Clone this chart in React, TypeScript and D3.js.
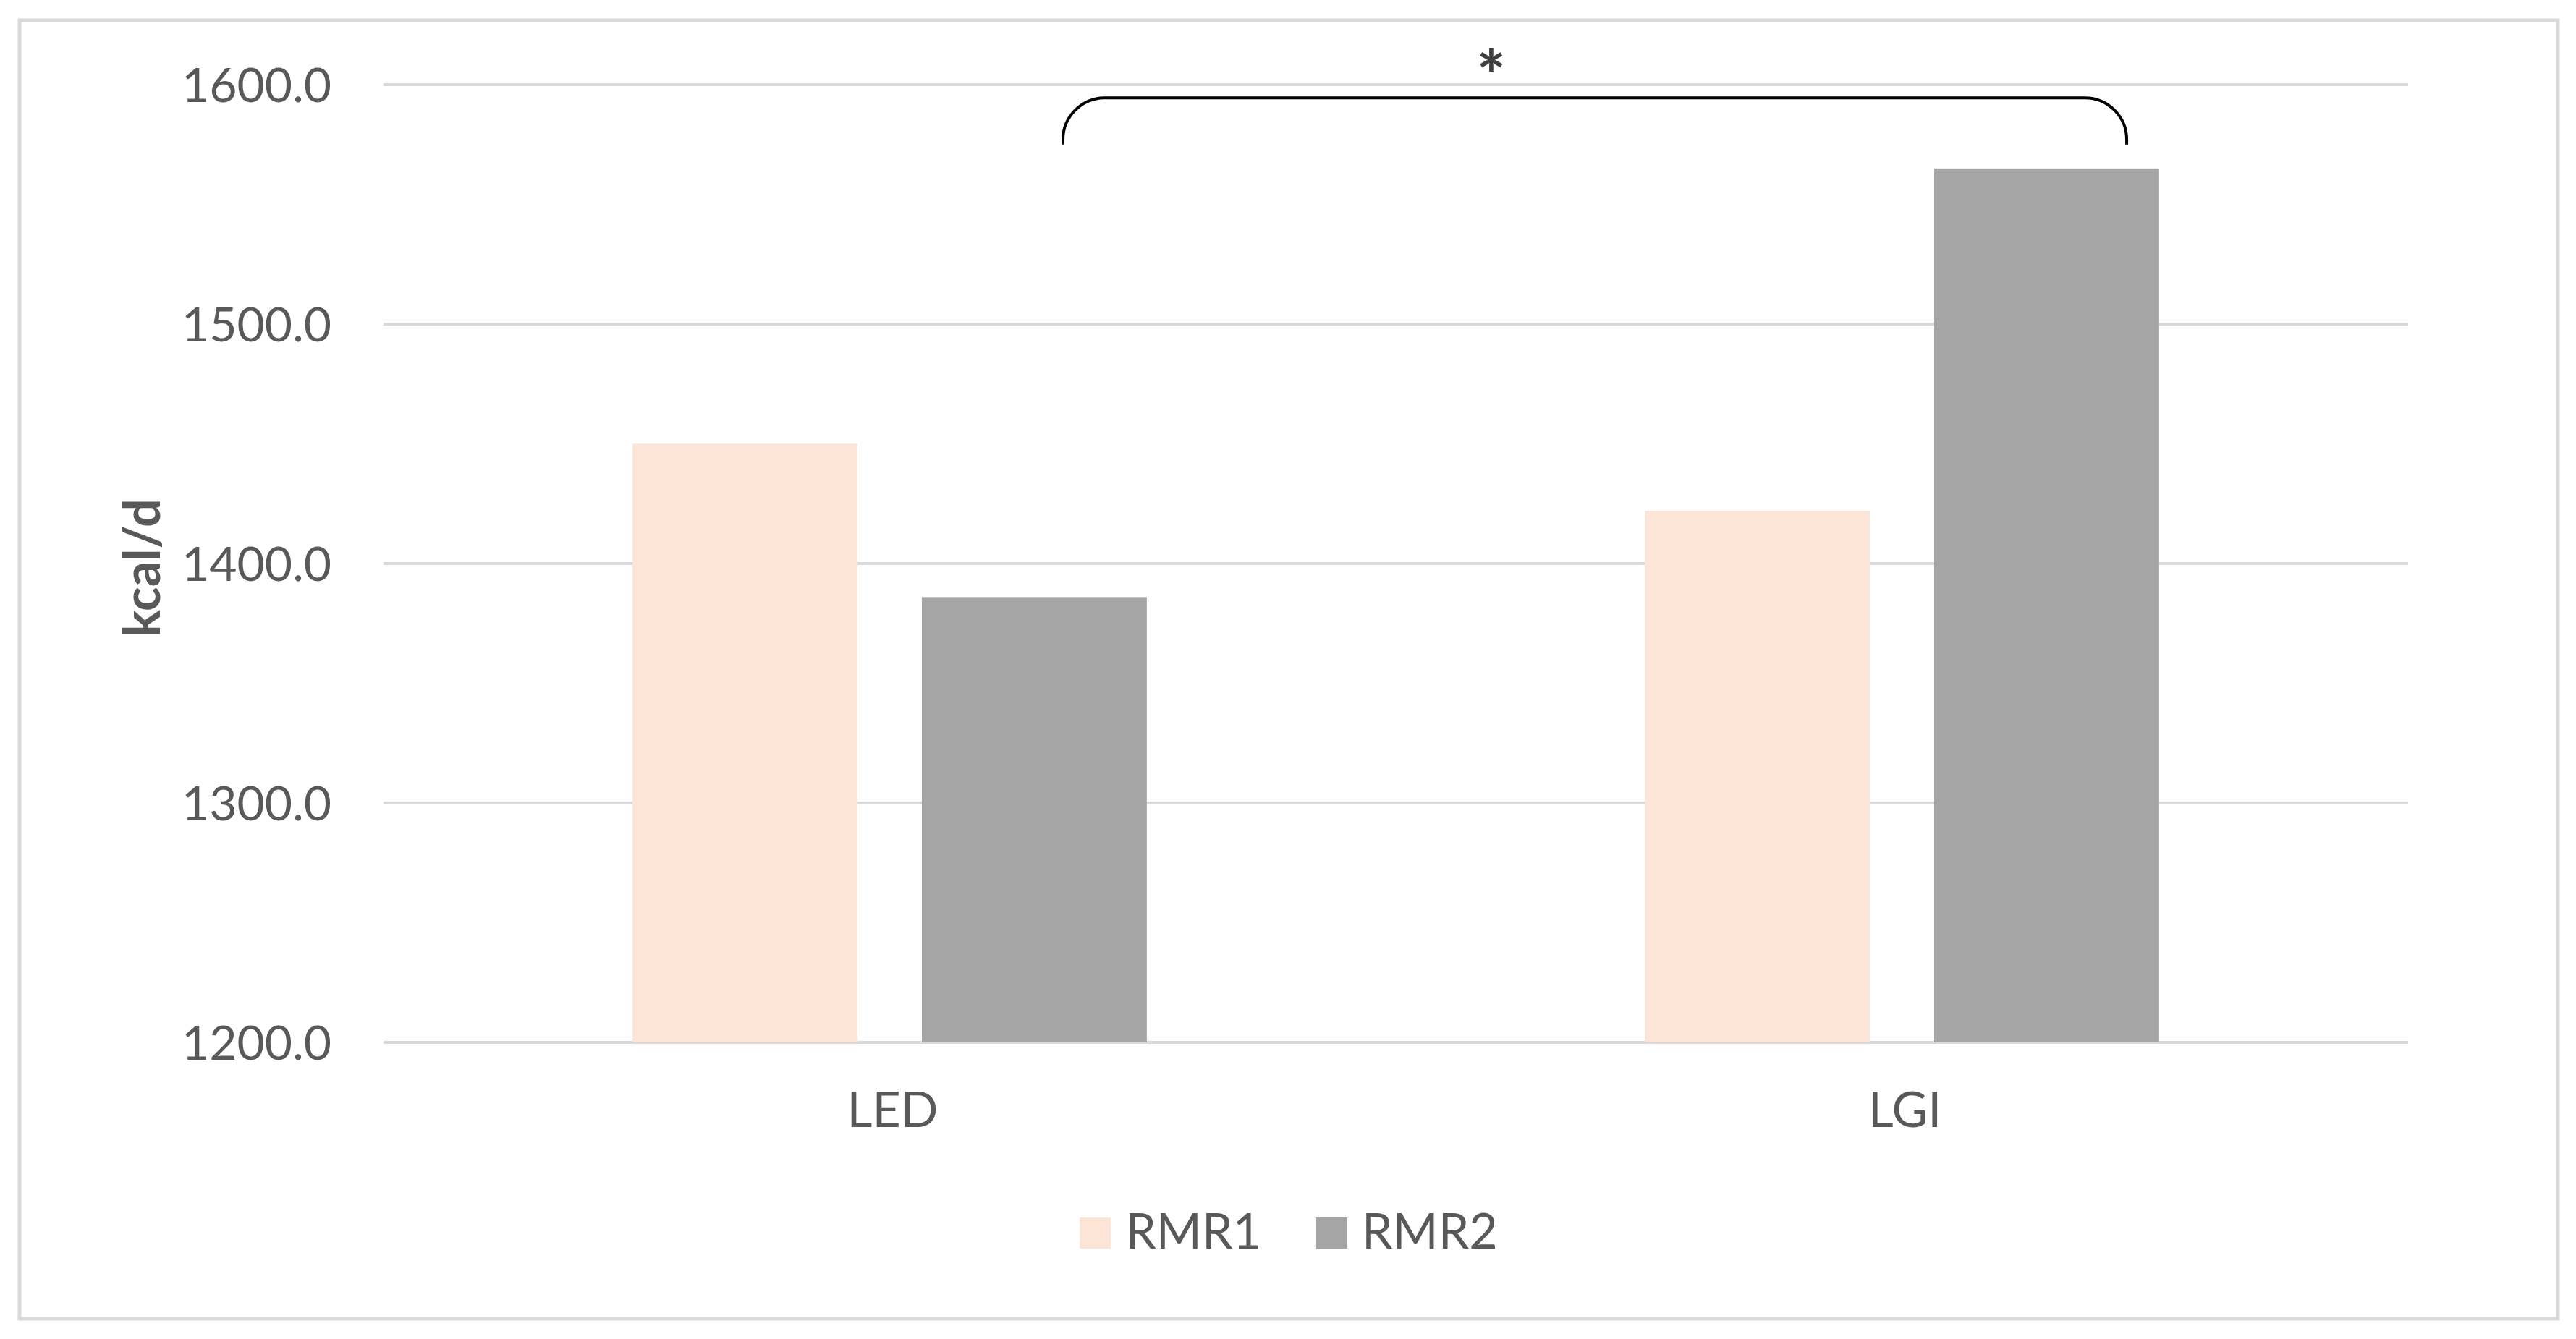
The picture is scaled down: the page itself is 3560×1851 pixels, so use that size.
import React, { useEffect, useLayoutEffect, useRef } from 'react';
import * as d3 from 'd3';

const categories = ['LED', 'LGI'];
const seriesNames = ['RMR1', 'RMR2'];
const rmr1Values = [1450, 1422];
const rmr2Values = [1386, 1565];
const yTicks = [1200, 1300, 1400, 1500, 1600];
const seriesColors = ['#FCE4D6', '#A5A5A5'];
const axisTitle = 'kcal/d';
const significanceMark = '*';

const WIDTH = 3560;
const HEIGHT = 1851;

const App: React.FC = () => {
  const svgRef = useRef<SVGSVGElement>(null);

  useLayoutEffect(() => {
    document.body.style.margin = '0';
  }, []);

  useEffect(() => {
    const svg = d3.select(svgRef.current);
    svg.selectAll('*').remove();

    const font = 'Lato, Calibri, "Open Sans", sans-serif';
    const textColor = '#595959';
    const gridColor = '#D9D9D9';

    // chart frame
    const frame = { left: 27, top: 28, right: 3535, bottom: 1823 };
    svg.append('rect')
      .attr('x', 0).attr('y', 0)
      .attr('width', WIDTH).attr('height', HEIGHT)
      .attr('fill', '#ffffff');
    svg.append('rect')
      .attr('x', frame.left).attr('y', frame.top)
      .attr('width', frame.right - frame.left)
      .attr('height', frame.bottom - frame.top)
      .attr('fill', '#ffffff')
      .attr('stroke', gridColor)
      .attr('stroke-width', 5);

    const plot = { left: 530, right: 3328, top: 117, bottom: 1441 };

    const y = d3.scaleLinear()
      .domain([1200, 1600])
      .range([plot.bottom, plot.top]);

    const x0 = d3.scaleBand()
      .domain(categories)
      .range([plot.left, plot.right])
      .paddingInner(0.492)
      .paddingOuter(0.246);

    const x1 = d3.scaleBand()
      .domain(seriesNames)
      .range([0, x0.bandwidth()])
      .paddingInner(0.2225);

    // gridlines
    svg.append('g')
      .selectAll('line')
      .data(yTicks)
      .enter()
      .append('line')
      .attr('x1', plot.left)
      .attr('x2', plot.right)
      .attr('y1', d => y(d))
      .attr('y2', d => y(d))
      .attr('stroke', gridColor)
      .attr('stroke-width', 4);

    // y tick labels
    svg.append('g')
      .selectAll('text')
      .data(yTicks)
      .enter()
      .append('text')
      .attr('x', 458)
      .attr('y', d => y(d))
      .attr('dy', '0.36em')
      .attr('text-anchor', 'end')
      .attr('font-family', font)
      .attr('font-size', 66)
      .attr('fill', textColor)
      .text(d => d3.format('.1f')(d));

    // bars
    const seriesValues = [rmr1Values, rmr2Values];
    seriesNames.forEach((name, si) => {
      svg.append('g')
        .selectAll('rect')
        .data(categories)
        .enter()
        .append('rect')
        .attr('x', c => x0(c)! + x1(name)!)
        .attr('y', (c, i) => y(seriesValues[si][i]))
        .attr('width', x1.bandwidth())
        .attr('height', (c, i) => y(1200) - y(seriesValues[si][i]))
        .attr('fill', seriesColors[si]);
    });

    // category labels
    svg.append('g')
      .selectAll('text')
      .data(categories)
      .enter()
      .append('text')
      .attr('x', c => x0(c)! + x0.bandwidth() / 2 + 4)
      .attr('y', 1558)
      .attr('text-anchor', 'middle')
      .attr('font-family', font)
      .attr('font-size', 68)
      .attr('fill', textColor)
      .text(c => c);

    // axis title
    svg.append('text')
      .attr('transform', `translate(221,${(plot.top + plot.bottom) / 2 + 6}) rotate(-90)`)
      .attr('text-anchor', 'middle')
      .attr('font-family', font)
      .attr('font-weight', 'bold')
      .attr('font-size', 70)
      .attr('fill', textColor)
      .text(axisTitle);

    // significance bracket between LED RMR2 and LGI RMR2
    const bx1 = x0('LED')! + 0.837 * x0.bandwidth();
    const bx2 = x0('LGI')! + 0.937 * x0.bandwidth();
    const byTop = y(1594.5);
    const byEnd = y(1575);
    const r = 58;
    const bracket = d3.path();
    bracket.moveTo(bx1, byEnd);
    bracket.arcTo(bx1, byTop, bx1 + r, byTop, r);
    bracket.lineTo(bx2 - r, byTop);
    bracket.arcTo(bx2, byTop, bx2, byEnd, r);
    bracket.lineTo(bx2, byEnd);
    svg.append('path')
      .attr('d', bracket.toString())
      .attr('fill', 'none')
      .attr('stroke', '#000000')
      .attr('stroke-width', 4);

    svg.append('text')
      .attr('x', x0('LED')! + 1.67 * x0.bandwidth())
      .attr('y', y(1609) + 52)
      .attr('text-anchor', 'middle')
      .attr('font-family', font)
      .attr('font-weight', 'bold')
      .attr('font-size', 96)
      .attr('fill', '#404040')
      .text(significanceMark);

    // legend, centred in the chart frame
    const legend = svg.append('g');
    const swatch = 43;
    const items = seriesNames.map((name, i) => {
      const g = legend.append('g');
      g.append('rect')
        .attr('x', 0).attr('y', -swatch)
        .attr('width', swatch).attr('height', swatch)
        .attr('fill', seriesColors[i]);
      const t = g.append('text')
        .attr('x', swatch + 20)
        .attr('y', 0)
        .attr('font-family', font)
        .attr('font-size', 68)
        .attr('fill', textColor)
        .text(name);
      const w = swatch + 20 + (t.node() as SVGTextElement).getComputedTextLength();
      return { g, w };
    });
    const itemGap = 76;
    const total = d3.sum(items, d => d.w) + itemGap * (items.length - 1);
    let lx = (frame.left + frame.right) / 2 - total / 2;
    items.forEach(it => {
      it.g.attr('transform', `translate(${lx},1726)`);
      lx += it.w + itemGap;
    });
  }, []);

  return (
    <svg ref={svgRef} width={WIDTH} height={HEIGHT} style={{ display: 'block' }}></svg>
  );
};

export default App;
